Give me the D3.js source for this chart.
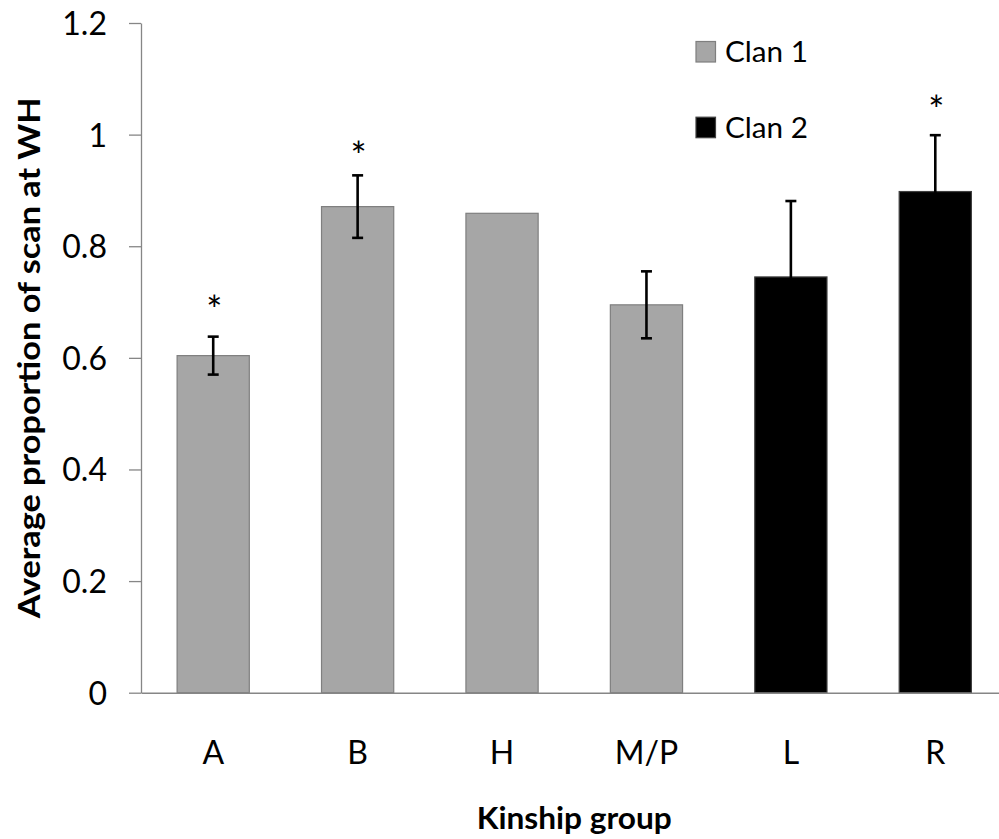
<!DOCTYPE html>
<html>
<head>
<meta charset="utf-8">
<script src="https://cdn.jsdelivr.net/npm/d3@7"></script>
<style>
  html, body { margin: 0; padding: 0; background: #fff; }
  svg { display: block; }
  text { font-family: Lato, "Open Sans", sans-serif; fill: #000; }
</style>
</head>
<body>
<svg id="chart" width="999" height="839"></svg>
<script>
// ---- data ----
const categories = ["A", "B", "H", "M/P", "L", "R"];
const clans = ["Clan 1", "Clan 1", "Clan 1", "Clan 1", "Clan 2", "Clan 2"];
const means = [0.604, 0.871, 0.859, 0.695, 0.745, 0.898];
const errors = [0.034, 0.056, 0, 0.060, 0.136, 0.101];
const sigMarks = ["*", "*", "", "", "", "*"];
const sigMarkValue = [0.698, 0.974, null, null, null, 1.056];
const yTicks = [0, 0.2, 0.4, 0.6, 0.8, 1, 1.2];
const yTickLabels = ["0", "0.2", "0.4", "0.6", "0.8", "1", "1.2"];
const legendLabels = ["Clan 1", "Clan 2"];
const yTitle = "Average proportion of scan at WH";
const xTitle = "Kinship group";

// ---- layout ----
const svg = d3.select("#chart");
const plotLeft = 141, plotRight = 1007.5, plotTop = 23, plotBottom = 692.7;
const colors = { "Clan 1": "#a6a6a6", "Clan 2": "#000000" };
const strokes = { "Clan 1": "#7f7f7f", "Clan 2": "#404040" };
const axisColor = "#868686";

const x = d3.scaleBand().domain(categories).range([plotLeft, plotRight])
  .paddingInner(0.5).paddingOuter(0.25);
const y = d3.scaleLinear().domain([0, 1.2]).range([plotBottom, plotTop]);

// y axis
const yAxis = d3.axisLeft(y).tickValues(yTicks)
  .tickFormat((d, i) => yTickLabels[i]).tickSize(12).tickSizeOuter(0).tickPadding(22);
const gy = svg.append("g").attr("transform", `translate(${plotLeft},0)`).call(yAxis);
gy.select(".domain").attr("stroke", axisColor).attr("stroke-width", 1.3);
gy.selectAll(".tick line").attr("stroke", axisColor).attr("stroke-width", 1.3);
gy.selectAll(".tick text").attr("font-size", 32).attr("font-family", "Lato")
  .attr("fill", "#111").attr("dy", "0.36em");

// bars
const dataRows = categories.map((c, i) => ({ c, clan: clans[i], v: means[i], e: errors[i], s: sigMarks[i], sv: sigMarkValue[i] }));

svg.append("g").selectAll("rect").data(dataRows).join("rect")
  .attr("x", d => x(d.c))
  .attr("y", d => y(d.v))
  .attr("width", x.bandwidth())
  .attr("height", d => y(0) - y(d.v))
  .attr("fill", d => colors[d.clan])
  .attr("stroke", d => strokes[d.clan])
  .attr("stroke-width", 1.2);

// x axis line
const xAxis = d3.axisBottom(x).tickSize(0).tickSizeOuter(0).tickPadding(0);
const gx = svg.append("g").attr("transform", `translate(0,${plotBottom})`).call(xAxis);
gx.select(".domain").attr("stroke", axisColor).attr("stroke-width", 1.5);
gx.selectAll(".tick text").attr("font-size", 32).attr("font-family", "Lato")
  .attr("fill", "#111").attr("y", 764 - plotBottom).attr("dy", 0);

// error bars
const eb = svg.append("g").selectAll("g").data(dataRows.filter(d => d.e > 0)).join("g");
const cx = d => x(d.c) + x.bandwidth() / 2;
eb.append("line")
  .attr("x1", cx).attr("x2", cx)
  .attr("y1", d => y(d.v - d.e)).attr("y2", d => y(d.v + d.e))
  .attr("stroke", "#000").attr("stroke-width", 2.6);
eb.append("line")
  .attr("x1", d => cx(d) - 5.5).attr("x2", d => cx(d) + 5.5)
  .attr("y1", d => y(d.v + d.e)).attr("y2", d => y(d.v + d.e))
  .attr("stroke", "#000").attr("stroke-width", 2.6);
eb.append("line")
  .attr("x1", d => cx(d) - 5.5).attr("x2", d => cx(d) + 5.5)
  .attr("y1", d => y(d.v - d.e)).attr("y2", d => y(d.v - d.e))
  .attr("stroke", "#000").attr("stroke-width", 2.6);

// significance marks
svg.append("g").selectAll("text").data(dataRows.filter(d => d.s)).join("text")
  .attr("x", d => cx(d) + 1)
  .attr("y", d => y(d.sv) + 21)
  .attr("text-anchor", "middle")
  .attr("font-size", 38)
  .text(d => d.s);

// legend
const legend = svg.append("g");
legendLabels.forEach((lab, i) => {
  const ly = 62 + i * 75.7;
  legend.append("rect")
    .attr("x", 696).attr("y", ly - 20.5).attr("width", 19.5).attr("height", 20.5)
    .attr("fill", colors[lab]).attr("stroke", strokes[lab]).attr("stroke-width", 1.2);
  legend.append("text")
    .attr("x", 725).attr("y", ly)
    .attr("font-size", 29)
    .attr("textLength", 83).attr("lengthAdjust", "spacingAndGlyphs")
    .text(lab);
});

// axis titles
svg.append("text")
  .attr("transform", `translate(39.5,${(plotTop + plotBottom) / 2}) rotate(-90)`)
  .attr("text-anchor", "middle")
  .attr("font-size", 30).attr("font-weight", "bold")
  .attr("textLength", 521).attr("lengthAdjust", "spacingAndGlyphs")
  .text(yTitle);

svg.append("text")
  .attr("x", (plotLeft + plotRight) / 2).attr("y", 829)
  .attr("text-anchor", "middle")
  .attr("font-size", 30).attr("font-weight", "bold")
  .attr("textLength", 195).attr("lengthAdjust", "spacingAndGlyphs")
  .text(xTitle);
</script>
</body>
</html>
